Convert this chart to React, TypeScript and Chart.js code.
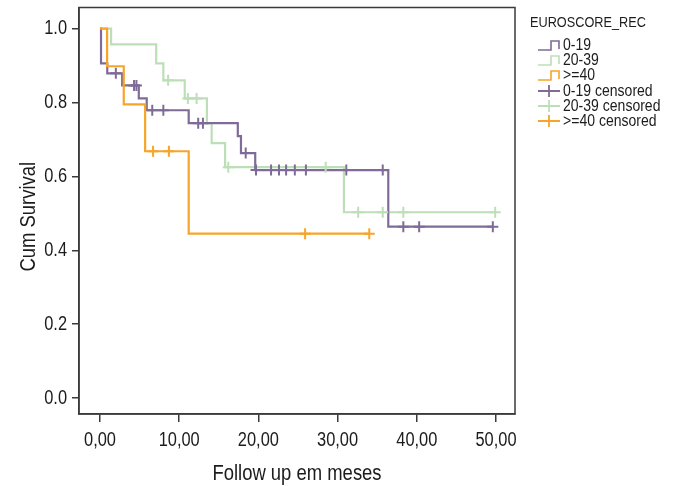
import { useEffect, useRef } from 'react';
import { Chart, registerables } from 'chart.js';

Chart.register(...registerables);

// Arial-metric face, drawn horizontally condensed to give a narrow look
const FONT = "'Liberation Sans', Arial, sans-serif";
const NARROW = 0.82;
const TEXT = '#1c1c1c';
const AXIS = '#3a3a3a';

const legendTitle = 'EUROSCORE_REC';
const groups = ['0-19', '20-39', '>=40'];
const colors = ['#7f6b97', '#bddfb8', '#f6a52a'];

// Kaplan–Meier steps: event times (months) and survival after each event
const times019 = [0, 0.13, 0.92, 2.8, 4.9, 5.9, 11.2, 17.4, 17.8, 19.6, 36.4, 49.6];
const surv019 = [1, 0.906, 0.879, 0.846, 0.811, 0.779, 0.744, 0.709, 0.663, 0.617, 0.464, 0.464];
const cens019 = [2.0, 4.3, 4.6, 6.6, 8.0, 12.4, 13.0, 18.4, 19.7, 21.6, 22.6, 23.5, 24.6, 26.0, 31.1, 35.7, 38.3, 40.3, 49.6];

const times2039 = [0, 1.4, 7.1, 8.0, 10.7, 13.5, 14.1, 15.8, 30.8, 49.9];
const surv2039 = [1, 0.957, 0.906, 0.86, 0.811, 0.744, 0.69, 0.625, 0.503, 0.503];
const cens2039 = [8.6, 11.1, 12.2, 16.2, 28.5, 32.6, 35.7, 38.3, 49.9];

const times40 = [0, 0.9, 3.0, 5.7, 11.2, 34.0];
const surv40 = [1, 0.898, 0.795, 0.668, 0.445, 0.445];
const cens40 = [6.7, 8.7, 25.9, 34.0];

const xTicks = [0, 10, 20, 30, 40, 50];
const yTicks = [0, 0.2, 0.4, 0.6, 0.8, 1.0];

const xTitle = 'Follow up em meses';
const yTitle = 'Cum Survival';

const fmtX = (v: number) => v.toFixed(2).replace('.', ',');
const fmtY = (v: number) => v.toFixed(1);

function stepPoints(times: number[], surv: number[]) {
  return times.map((t, i) => ({ x: t, y: surv[i] }));
}

function survivalAt(times: number[], surv: number[], t: number) {
  let v = surv[0];
  for (let i = 0; i < times.length; i++) {
    if (times[i] <= t) v = surv[i];
  }
  return v;
}

function censorPoints(times: number[], surv: number[], cens: number[]) {
  return cens.map((t) => ({ x: t, y: survivalAt(times, surv, t) }));
}

const series = [
  { times: times019, surv: surv019, cens: cens019 },
  { times: times2039, surv: surv2039, cens: cens2039 },
  { times: times40, surv: surv40, cens: cens40 },
];

function narrowText(ctx: CanvasRenderingContext2D, text: string, x: number, y: number, angle = 0, squeeze = NARROW) {
  ctx.save();
  ctx.translate(x, y);
  if (angle) ctx.rotate(angle);
  ctx.scale(squeeze, 1);
  ctx.fillText(text, 0, 0);
  ctx.restore();
}

// frame, tick labels, axis titles and the legend block on the right
const decorations = {
  id: 'decorations',
  afterDraw(chart: any) {
    const { ctx, chartArea: a } = chart;
    const xs = chart.scales.x;
    const ys = chart.scales.y;
    ctx.save();
    ctx.strokeStyle = AXIS;
    ctx.lineWidth = 1.5;
    ctx.strokeRect(a.left, a.top, a.right - a.left, a.bottom - a.top);

    ctx.fillStyle = TEXT;
    ctx.font = `20px ${FONT}`;
    ctx.textBaseline = 'middle';

    ctx.textAlign = 'center';
    xTicks.forEach((v) => narrowText(ctx, fmtX(v), xs.getPixelForValue(v), 440));
    ctx.textAlign = 'right';
    yTicks.forEach((v) => narrowText(ctx, fmtY(v), 67, ys.getPixelForValue(v)));

    ctx.font = `22.5px ${FONT}`;
    ctx.textAlign = 'center';
    narrowText(ctx, xTitle, (a.left + a.right) / 2, 474);
    narrowText(ctx, yTitle, 29, (a.top + a.bottom) / 2 + 6, -Math.PI / 2);

    // legend
    ctx.textAlign = 'left';
    ctx.font = `15.5px ${FONT}`;
    narrowText(ctx, legendTitle, 530, 23);
    ctx.font = `16.5px ${FONT}`;
    const rowY = [45, 60, 75, 91, 106, 121];
    const sx = 538;
    groups.forEach((g, i) => {
      const y = rowY[i];
      ctx.strokeStyle = colors[i];
      ctx.lineWidth = 1.6;
      ctx.beginPath();
      ctx.moveTo(sx, y + 5);
      ctx.lineTo(sx + 13, y + 5);
      ctx.lineTo(sx + 13, y - 4);
      ctx.lineTo(sx + 21, y - 4);
      ctx.lineTo(sx + 21, y + 4);
      ctx.stroke();
      ctx.fillStyle = TEXT;
      narrowText(ctx, g, 563, y, 0, 0.85);
    });
    groups.forEach((g, i) => {
      const y = rowY[i + 3];
      ctx.strokeStyle = colors[i];
      ctx.lineWidth = 1.8;
      ctx.beginPath();
      ctx.moveTo(sx, y);
      ctx.lineTo(sx + 22, y);
      ctx.moveTo(sx + 11, y - 6);
      ctx.lineTo(sx + 11, y + 6);
      ctx.stroke();
      ctx.fillStyle = TEXT;
      narrowText(ctx, `${g} censored`, 563, y, 0, 0.85);
    });
    ctx.restore();
  },
};

export default function App() {
  const ref = useRef<HTMLCanvasElement | null>(null);

  useEffect(() => {
    if (!ref.current) return;
    const censorSets = series.map((s, i) => ({
      label: `${groups[i]} censored`,
      data: censorPoints(s.times, s.surv, s.cens),
      showLine: false,
      pointStyle: 'cross' as const,
      pointRadius: 5.5,
      pointBorderWidth: 2,
      borderColor: colors[i],
      backgroundColor: colors[i],
    }));
    const lineSets = series.map((s, i) => ({
      label: groups[i],
      data: stepPoints(s.times, s.surv),
      stepped: 'before' as const,
      borderColor: colors[i],
      borderWidth: 2.2,
      pointRadius: 0,
      fill: false,
    }));
    // lower index is painted last: orange over purple over green
    const datasets = [
      censorSets[2], censorSets[0], censorSets[1],
      lineSets[2], lineSets[0], lineSets[1],
    ];

    const chart = new Chart(ref.current, {
      type: 'line',
      data: { datasets: datasets as any },
      options: {
        responsive: false,
        animation: false,
        layout: { padding: { top: 6, right: 159, left: 0, bottom: 0 } },
        plugins: { legend: { display: false }, tooltip: { enabled: false } },
        scales: {
          x: {
            type: 'linear',
            min: -2.65,
            max: 52.4,
            afterBuildTicks: (s: any) => { s.ticks = xTicks.map((v) => ({ value: v })); },
            afterFit: (s: any) => { s.height = 72; },
            ticks: { display: false },
            grid: { drawOnChartArea: false, drawTicks: true, tickLength: 8, color: AXIS, lineWidth: 1.5 },
            border: { display: true, color: AXIS, width: 1.5 },
          },
          y: {
            type: 'linear',
            min: -0.043,
            max: 1.057,
            afterBuildTicks: (s: any) => { s.ticks = yTicks.map((v) => ({ value: v })); },
            afterFit: (s: any) => { s.width = 79; },
            ticks: { display: false },
            grid: { drawOnChartArea: false, drawTicks: true, tickLength: 7, color: AXIS, lineWidth: 1.5 },
            border: { display: true, color: AXIS, width: 1.5 },
          },
        },
      },
      plugins: [decorations],
    });
    return () => chart.destroy();
  }, []);

  return (
    <div style={{ position: 'absolute', left: 0, top: 0, width: 674, height: 486, background: '#fff' }}>
      <canvas ref={ref} width={674} height={486} style={{ display: 'block' }} />
    </div>
  );
}
